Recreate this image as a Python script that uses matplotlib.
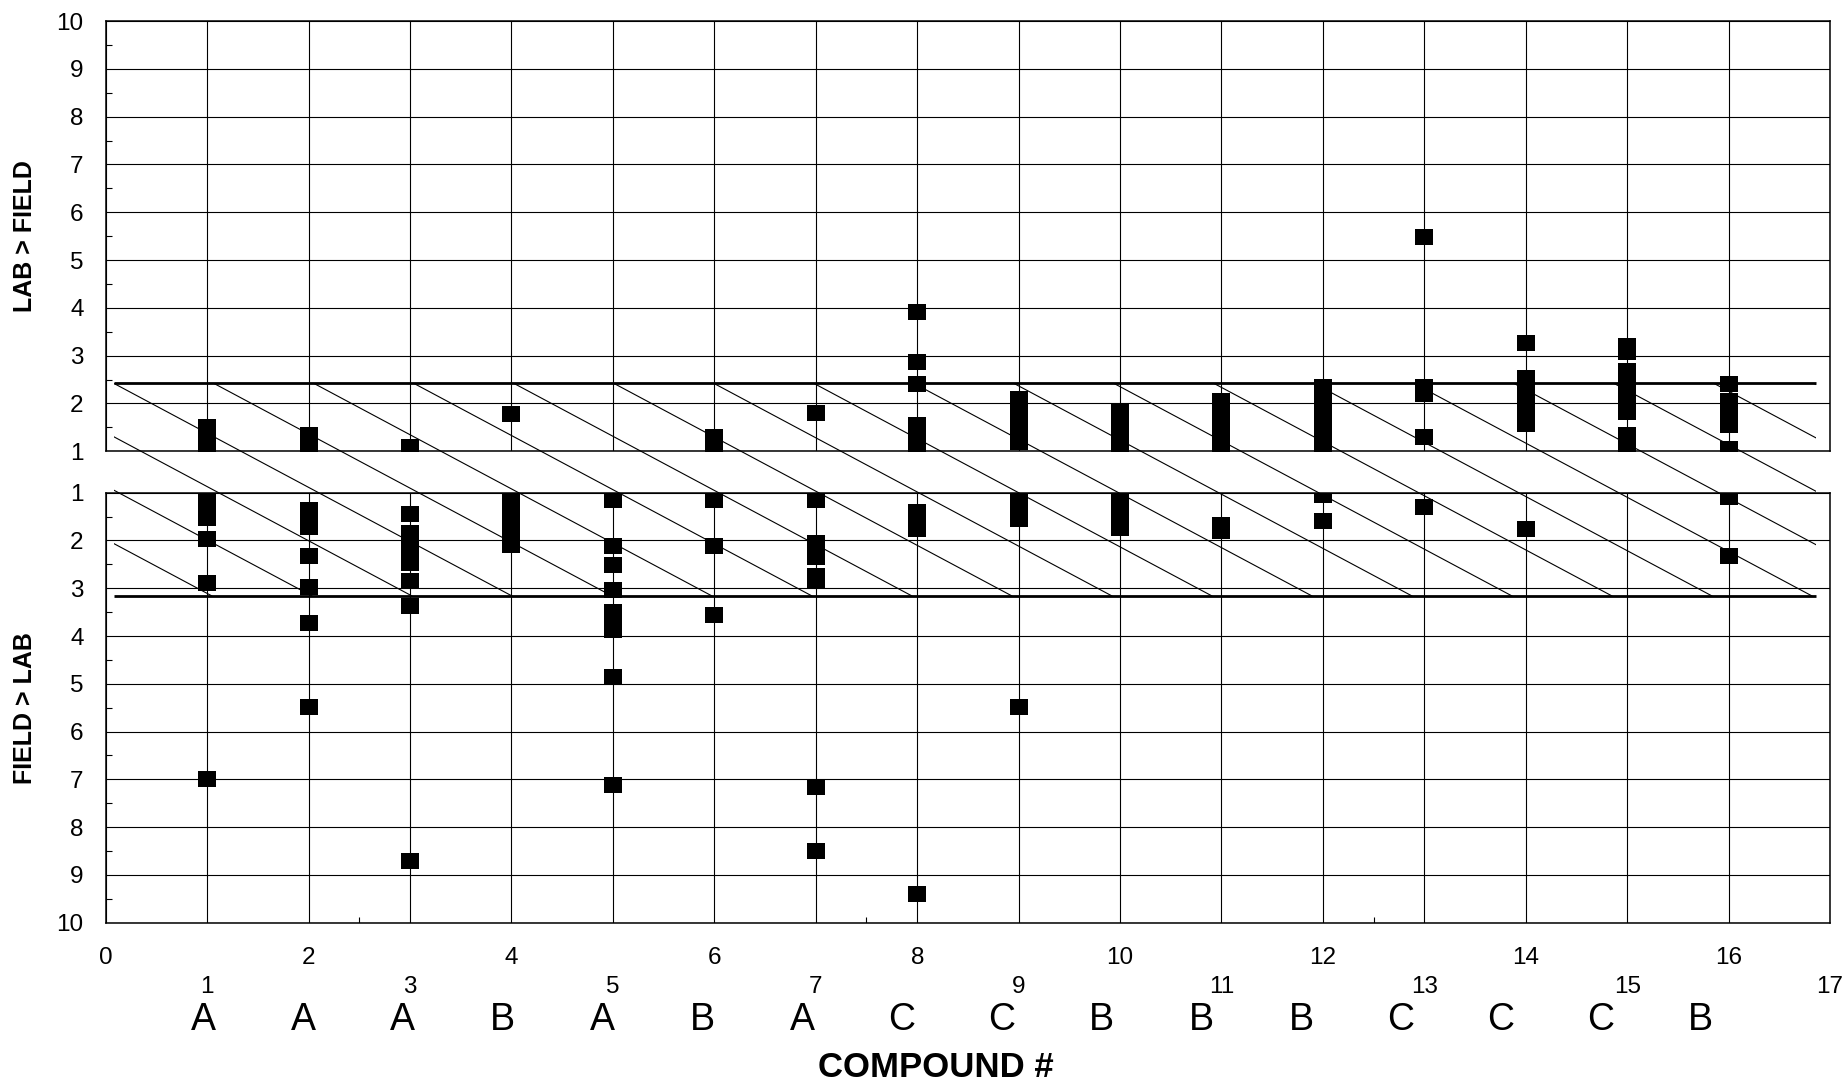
import numpy as np
import matplotlib.pyplot as plt
from matplotlib.patches import Rectangle

plt.rcParams['font.family'] = ['Liberation Sans', 'DejaVu Sans']

compounds = list(range(1, 17))
classes = ['A', 'A', 'A', 'B', 'A', 'B', 'A', 'C', 'C', 'B', 'B', 'B', 'C', 'C', 'C', 'B']

# upper panel: LAB > FIELD, one list per compound
lab_gt_field = [
    [1.5, 1.35, 1.2, 1.1],
    [1.34, 1.15],
    [1.1],
    [1.78],
    [],
    [1.3, 1.15],
    [1.81],
    [3.92, 2.87, 2.41, 1.55, 1.35, 1.15],
    [2.09, 1.85, 1.6, 1.4, 1.2],
    [1.84, 1.6, 1.35, 1.15],
    [2.05, 1.8, 1.55, 1.3, 1.1],
    [2.35, 2.1, 1.85, 1.6, 1.35, 1.1],
    [5.48, 2.35, 2.2, 1.3],
    [3.27, 2.53, 2.3, 2.05, 1.8, 1.57],
    [3.2, 3.07, 2.67, 2.4, 2.15, 1.82, 1.34, 1.15],
    [2.4, 2.05, 1.8, 1.55, 1.05],
]

# lower panel: FIELD > LAB
field_gt_lab = [
    [1.1, 1.3, 1.52, 1.97, 2.88, 7.0],
    [1.36, 1.55, 1.72, 2.32, 2.98, 3.73, 5.49],
    [1.44, 1.84, 2.1, 2.3, 2.47, 2.85, 3.38, 8.71],
    [1.1, 1.35, 1.6, 1.85, 2.1],
    [1.15, 2.11, 2.52, 3.03, 3.5, 3.7, 3.88, 4.85, 7.11],
    [1.15, 2.12, 3.55],
    [1.15, 2.05, 2.2, 2.35, 2.75, 2.85, 7.15, 8.5],
    [1.4, 1.6, 1.76, 9.4],
    [1.1, 1.35, 1.55, 5.48],
    [1.2, 1.52, 1.74],
    [1.68, 1.8],
    [1.05, 1.6],
    [1.3],
    [1.75],
    [],
    [1.1, 2.33],
]

# acceptance band: from 2.42 (lab > field) across to 3.16 (field > lab)
band_top = 2.42
band_bottom = 3.16
band_x = (0.08, 16.86)
hatch_step = 0.986
hatch_slope = 0.534

W, H = 1843, 1081
fig = plt.figure(figsize=(W / 100, H / 100), dpi=100)
fig.patch.set_facecolor('white')

left, width = 105.8 / W, (1830 - 105.8) / W
ax1 = fig.add_axes([left, 1 - 451.3 / H, width, (451.3 - 21) / H], zorder=2)
ax2 = fig.add_axes([left, 1 - 922.7 / H, width, (922.7 - 492.7) / H], zorder=2)
ov = fig.add_axes([0, 0, 1, 1], zorder=0)
ov.set_xlim(0, W)
ov.set_ylim(H, 0)
ov.axis('off')

rect_marker = [(-1, -0.86), (1, -0.86), (1, 0.86), (-1, 0.86), (-1, -0.86)]

for ax, data in ((ax1, lab_gt_field), (ax2, field_gt_lab)):
    ax.set_facecolor('none')
    xs = [c for c, vals in zip(compounds, data) for _ in vals]
    ys = [v for vals in data for v in vals]
    ax.plot(xs, ys, linestyle='none', marker=rect_marker, ms=13, color='k',
            mec='k', mew=0, zorder=3)
    ax.set_xlim(0, 17)
    ax.set_ylim(1, 10)
    ax.set_yticks(range(1, 11))
    ax.set_yticks(np.arange(1.5, 10, 1), minor=True)
    ax.tick_params(axis='y', which='major', length=0, pad=16, labelsize=17.5)
    ax.tick_params(axis='y', which='minor', direction='in', length=4.3, width=0.8)
    ax.grid(axis='y', which='major', color='k', lw=0.8)
    ax.grid(axis='x', which='both', color='k', lw=0.8)
    for s in ax.spines.values():
        s.set_linewidth(1.1)

ax2.invert_yaxis()

ax1.set_xticks(range(18))
ax1.tick_params(axis='x', length=0, labelbottom=False)

ax2.set_xticks(range(0, 18, 2), [str(i) for i in range(0, 18, 2)])
ax2.set_xticks(range(1, 18, 2), [str(i) for i in range(1, 18, 2)], minor=True)
ax2.tick_params(axis='x', which='major', length=0, pad=17.5, labelsize=17.5)
ax2.tick_params(axis='x', which='minor', length=0, pad=38.5, labelsize=17.5)
ax2.vlines([2.5, 7.5, 12.5], 0, 0.013, transform=ax2.get_xaxis_transform(),
           color='k', lw=0.8)

# band edges
ax1.hlines(band_top, *band_x, color='k', lw=2.0, zorder=4)
ax2.hlines(band_bottom, *band_x, color='k', lw=2.0, zorder=4)

# hatching across both panels and the gap, in pixel space
def to_img(ax, x, y):
    d = ax.transData.transform((x, y))
    return d[0], H - d[1]

xl, yt = to_img(ax1, band_x[0], band_top)
xr, _ = to_img(ax1, band_x[1], band_top)
_, yb = to_img(ax2, band_x[0], band_bottom)
step = to_img(ax1, hatch_step, 1)[0] - to_img(ax1, 0, 1)[0]
run = (yb - yt) / hatch_slope
clip = Rectangle((xl, yt), xr - xl, yb - yt, transform=ov.transData)
for k in range(-6, 20):
    x0 = xl + k * step
    ln, = ov.plot([x0, x0 + run], [yt, yb], color='k', lw=0.8)
    ln.set_clip_path(clip)

for i, c in zip(compounds, classes):
    ax2.text(i - 0.04 - 0.016 * (i - 1), -0.2495, c, transform=ax2.get_xaxis_transform(),
             ha='center', va='baseline', fontsize=27)

fig.text(935.6 / W, 1 - 1076.7 / H, 'COMPOUND #', ha='center', va='baseline',
         fontsize=25, fontweight='bold')
fig.text(25 / W, 1 - (21 + 451.3) / 2 / H, 'LAB > FIELD', rotation=90,
         ha='center', va='center', fontsize=18, fontweight='bold')
fig.text(25 / W, 1 - (492.7 + 922.7) / 2 / H, 'FIELD > LAB', rotation=90,
         ha='center', va='center', fontsize=18, fontweight='bold')

fig.savefig('out.png', dpi=100)
